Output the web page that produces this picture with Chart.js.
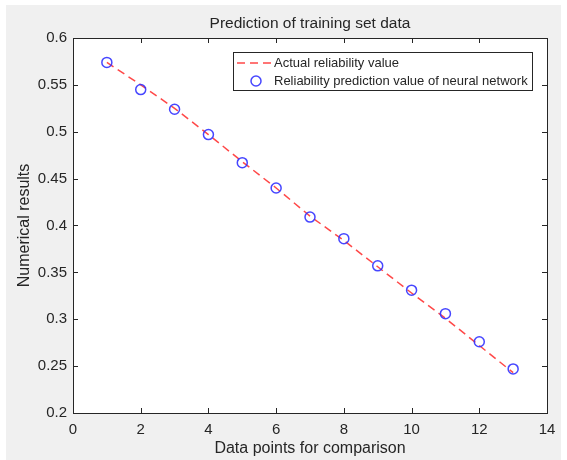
<!DOCTYPE html>
<html>
<head>
<meta charset="utf-8">
<script src="https://cdn.jsdelivr.net/npm/chart.js@4"></script>
<style>
  html, body { margin: 0; padding: 0; background: #ffffff; }
  #wrap { width: 567px; height: 460px; position: relative; }
</style>
</head>
<body>
<div id="wrap"><canvas id="chart"></canvas></div>
<script>
// data
const pointIndex = [1, 2, 3, 4, 5, 6, 7, 8, 9, 10, 11, 12, 13];
const actualValues = [0.574, 0.550, 0.525, 0.497, 0.468, 0.440, 0.410, 0.384, 0.356, 0.328, 0.301, 0.272, 0.243];
const predictedValues = [0.574, 0.545, 0.524, 0.497, 0.467, 0.440, 0.409, 0.386, 0.357, 0.331, 0.306, 0.276, 0.247];
const seriesNames = ['Actual reliability value', 'Reliability prediction value of neural network'];
const xTicks = [0, 2, 4, 6, 8, 10, 12, 14];
const yTicks = [0.2, 0.25, 0.3, 0.35, 0.4, 0.45, 0.5, 0.55, 0.6];

const chartTitle = 'Prediction of training set data';
const xTitle = 'Data points for comparison';
const yTitle = 'Numerical results';

const textColor = '#262626';
const axisColor = '#262626';
const fontFamily = '"Liberation Sans", Arial, Helvetica, sans-serif';

// fondo gris tipo figura de MATLAB + area blanca
const backgroundPlugin = {
    id: 'figureBackground',
    beforeDraw(chart) {
        const ctx = chart.ctx;
        const a = chart.chartArea;
        ctx.save();
        ctx.fillStyle = '#ffffff';
        ctx.fillRect(0, 0, chart.width, chart.height);
        ctx.fillStyle = '#f0f0f0';
        ctx.fillRect(6, 5, chart.width - 12, chart.height - 5);
        ctx.fillStyle = '#ffffff';
        ctx.fillRect(a.left, a.top, a.right - a.left, a.bottom - a.top);
        ctx.restore();
    }
};

// caja con ticks hacia dentro, titulo y leyenda
const boxPlugin = {
    id: 'boxAxes',
    afterDraw(chart) {
        const ctx = chart.ctx;
        const a = chart.chartArea;
        const xs = chart.scales.x;
        const ys = chart.scales.y;
        ctx.save();
        ctx.strokeStyle = axisColor;
        ctx.lineWidth = 1;
        ctx.strokeRect(Math.round(a.left) + 0.5, Math.round(a.top) + 0.5,
            Math.round(a.right - a.left), Math.round(a.bottom - a.top));
        const len = 5;
        ctx.beginPath();
        xTicks.forEach(v => {
            const px = Math.round(xs.getPixelForValue(v)) + 0.5;
            ctx.moveTo(px, a.bottom); ctx.lineTo(px, a.bottom - len);
            ctx.moveTo(px, a.top); ctx.lineTo(px, a.top + len);
        });
        yTicks.forEach(v => {
            const py = Math.round(ys.getPixelForValue(v)) + 0.5;
            ctx.moveTo(a.left, py); ctx.lineTo(a.left + len, py);
            ctx.moveTo(a.right, py); ctx.lineTo(a.right - len, py);
        });
        ctx.stroke();

        // titulo
        ctx.fillStyle = textColor;
        ctx.font = '15.5px ' + fontFamily;
        ctx.textAlign = 'center';
        ctx.textBaseline = 'middle';
        ctx.fillText(chartTitle, (a.left + a.right) / 2, 24);

        // leyenda
        const lx = 233, ly = 52, lw = 299, lh = 38;
        ctx.fillStyle = '#ffffff';
        ctx.fillRect(lx, ly, lw, lh);
        ctx.strokeStyle = axisColor;
        ctx.strokeRect(lx + 0.5, ly + 0.5, lw, lh);
        const ds = chart.data.datasets;
        ctx.beginPath();
        ctx.setLineDash(ds[0].borderDash);
        ctx.strokeStyle = ds[0].borderColor;
        ctx.lineWidth = ds[0].borderWidth;
        ctx.moveTo(237, 63); ctx.lineTo(271, 63);
        ctx.stroke();
        ctx.setLineDash([]);
        ctx.beginPath();
        ctx.strokeStyle = ds[1].borderColor;
        ctx.lineWidth = ds[1].borderWidth;
        ctx.arc(256, 81, ds[1].pointRadius, 0, Math.PI * 2);
        ctx.stroke();
        ctx.fillStyle = textColor;
        ctx.font = '13px ' + fontFamily;
        ctx.textAlign = 'left';
        ctx.fillText(ds[0].label, 274, 63);
        ctx.fillText(ds[1].label, 274, 81);
        ctx.restore();
    }
};

const ctx = document.getElementById('chart').getContext('2d');
new Chart(ctx, {
    type: 'scatter',
    data: {
        datasets: [{
            type: 'line',
            label: seriesNames[0],
            data: pointIndex.map((x, i) => ({ x: x, y: actualValues[i] })),
            borderColor: 'rgba(255, 40, 40, 0.85)',
            borderWidth: 1.5,
            borderDash: [8, 5],
            pointRadius: 0,
            fill: false,
            tension: 0,
            order: 2
        }, {
            label: seriesNames[1],
            data: pointIndex.map((x, i) => ({ x: x, y: predictedValues[i] })),
            borderColor: 'rgba(50, 50, 255, 0.9)',
            backgroundColor: 'rgba(0, 0, 0, 0)',
            borderWidth: 1.5,
            pointRadius: 5,
            pointHoverRadius: 5,
            showLine: false,
            order: 1
        }]
    },
    options: {
        responsive: true,
        maintainAspectRatio: false,
        animation: false,
        devicePixelRatio: 1,
        layout: { padding: { top: 38, right: 20, left: 0, bottom: 0 } },
        plugins: {
            legend: { display: false },
            tooltip: { enabled: false },
            title: { display: false }
        },
        scales: {
            x: {
                type: 'linear',
                min: 0,
                max: 14,
                afterBuildTicks: s => { s.ticks = xTicks.map(v => ({ value: v })); },
                afterFit: s => { s.height = 47; },
                grid: { display: false, drawTicks: false },
                border: { display: false },
                ticks: {
                    color: textColor,
                    font: { family: fontFamily, size: 15 },
                    padding: 8,
                    maxRotation: 0
                },
                title: {
                    display: true,
                    text: xTitle,
                    color: textColor,
                    font: { family: fontFamily, size: 16 },
                    padding: { top: 0, bottom: 2 }
                }
            },
            y: {
                type: 'linear',
                min: 0.2,
                max: 0.6,
                afterBuildTicks: s => { s.ticks = yTicks.map(v => ({ value: v })); },
                afterFit: s => { s.width = 73; },
                grid: { display: false, drawTicks: false },
                border: { display: false },
                ticks: {
                    color: textColor,
                    font: { family: fontFamily, size: 15 },
                    padding: 6,
                    callback: v => String(+v.toFixed(2))
                },
                title: {
                    display: true,
                    text: yTitle,
                    color: textColor,
                    font: { family: fontFamily, size: 16 },
                    padding: { top: 15, bottom: 0 }
                }
            }
        }
    },
    plugins: [backgroundPlugin, boxPlugin]
});
</script>
</body>
</html>
